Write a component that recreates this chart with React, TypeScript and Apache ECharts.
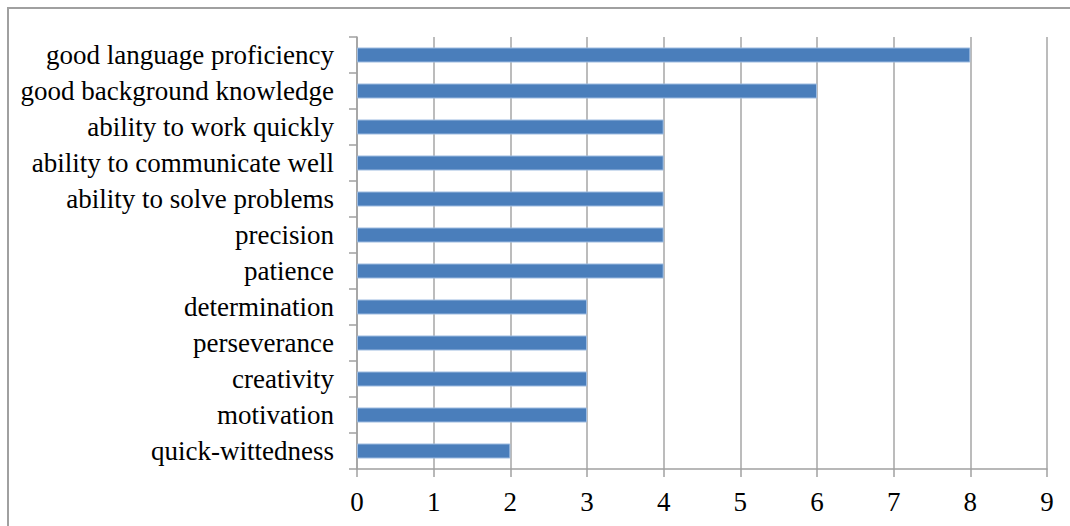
import React, { useEffect, useRef } from "react";
import * as echarts from "echarts";

const categories = [
  "good language proficiency",
  "good background knowledge",
  "ability to work quickly",
  "ability to communicate well",
  "ability to solve problems",
  "precision",
  "patience",
  "determination",
  "perseverance",
  "creativity",
  "motivation",
  "quick-wittedness",
];
const values = [8, 6, 4, 4, 4, 4, 4, 3, 3, 3, 3, 2];
const xTicks = [0, 1, 2, 3, 4, 5, 6, 7, 8, 9];

export default function App() {
  const ref = useRef<HTMLDivElement>(null);
  useEffect(() => {
    if (!ref.current) return;
    const chart = echarts.init(ref.current, null, { renderer: "svg" });
    const font = "Liberation Serif";
    chart.setOption({
      animation: false,
      backgroundColor: "#ffffff",
      textStyle: { fontFamily: font },
      graphic: [
        {
          type: "rect",
          shape: { x: 8, y: 8, width: 1080, height: 540 },
          style: { fill: "none", stroke: "#a0a0a0", lineWidth: 2 },
          silent: true,
        },
      ],
      grid: { left: 357, right: 23, top: 37, bottom: 57, containLabel: false },
      xAxis: {
        type: "value",
        min: xTicks[0],
        max: xTicks[xTicks.length - 1],
        interval: 1,
        axisLine: { show: true, lineStyle: { color: "#a0a0a0", width: 1.5 } },
        axisTick: { show: true, length: 8, lineStyle: { color: "#a0a0a0", width: 1.5 } },
        splitLine: { show: true, lineStyle: { color: "#a6a6a6", width: 1.5 } },
        axisLabel: {
          color: "#000",
          fontFamily: font,
          fontSize: 27,
          margin: 19,
        },
      },
      yAxis: {
        type: "category",
        inverse: true,
        data: categories,
        axisLine: { show: true, lineStyle: { color: "#a0a0a0", width: 1.5 } },
        axisTick: { show: true, length: 8, lineStyle: { color: "#a0a0a0", width: 1.5 } },
        axisLabel: {
          color: "#000",
          fontFamily: font,
          fontSize: 27,
          margin: 23,
        },
      },
      series: [
        {
          type: "bar",
          data: values,
          barWidth: 15,
          itemStyle: { color: "#4a7ebb", borderColor: "#9dbbe0", borderWidth: 1 },
        },
      ],
    });
    return () => chart.dispose();
  }, []);
  return (
    <div
      ref={ref}
      style={{ position: "fixed", left: 0, top: 0, width: 1070, height: 526 }}
    />
  );
}
